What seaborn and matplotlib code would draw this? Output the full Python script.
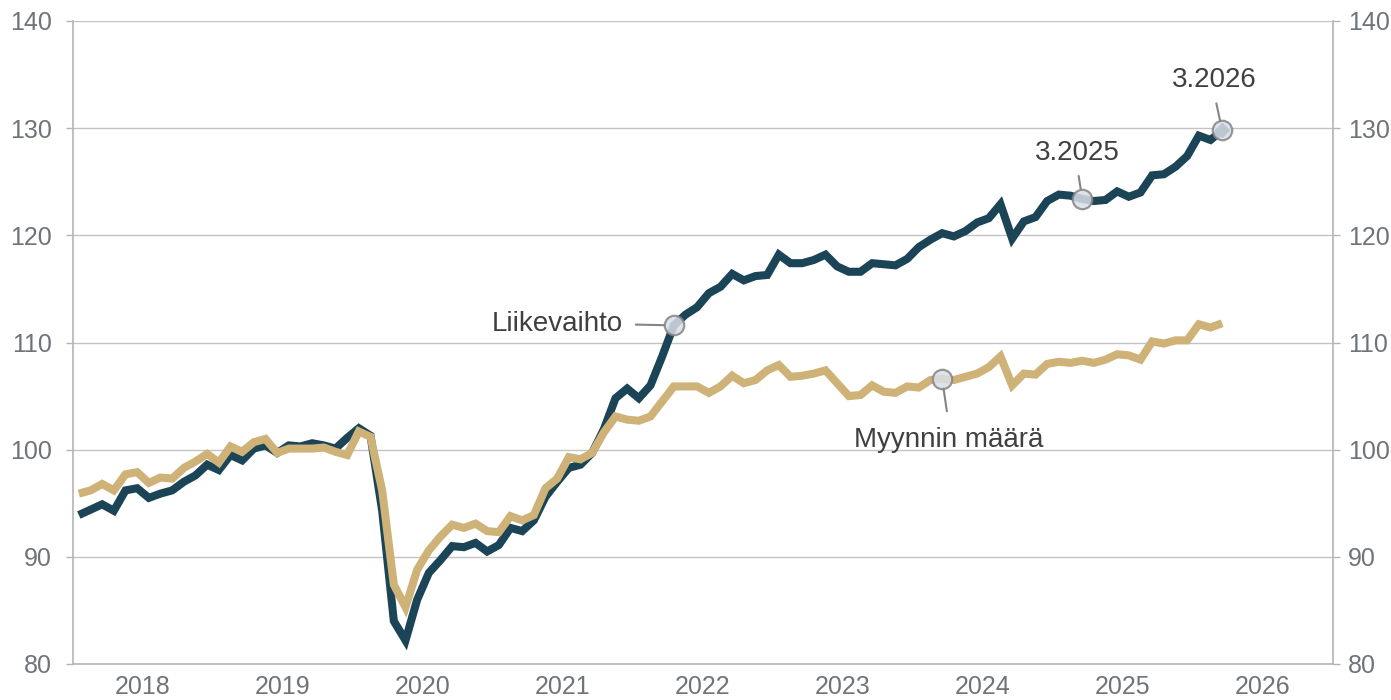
import numpy as np
import pandas as pd
import matplotlib
matplotlib.use("Agg")
import matplotlib.pyplot as plt
import seaborn as sns
from matplotlib import font_manager as fm

# ---------------- data ----------------
start_month = "2018-01"
n_months = 99  # 1.2018 ... 3.2026

liikevaihto = [
    93.9, 94.4, 94.9, 94.3, 96.2, 96.4, 95.5, 95.9, 96.2, 97.0, 97.6, 98.6,
    98.1, 99.5, 99.0, 100.1, 100.4, 99.7, 100.4, 100.3, 100.6, 100.4, 100.1, 101.1,
    102.0, 101.3, 94.3, 84.0, 82.2, 86.0, 88.5, 89.7, 91.0, 90.9, 91.3, 90.5,
    91.1, 92.7, 92.4, 93.4, 95.6, 97.0, 98.3, 98.6, 99.7, 101.9, 104.8, 105.7,
    104.8, 106.0, 108.7, 111.6, 112.6, 113.3, 114.6, 115.2, 116.4, 115.8, 116.2, 116.3,
    118.2, 117.4, 117.4, 117.7, 118.2, 117.1, 116.6, 116.6, 117.4, 117.3, 117.2, 117.8,
    118.9, 119.6, 120.2, 119.9, 120.4, 121.2, 121.6, 122.9, 119.7, 121.3, 121.7, 123.2,
    123.8, 123.7, 123.4, 123.2, 123.3, 124.1, 123.6, 124.0, 125.6, 125.7, 126.4, 127.4,
    129.3, 128.9, 129.8,
]
myynnin_maara = [
    95.9, 96.2, 96.8, 96.2, 97.7, 97.9, 96.9, 97.4, 97.3, 98.3, 98.9, 99.6,
    98.8, 100.3, 99.8, 100.7, 101.0, 99.7, 100.1, 100.1, 100.1, 100.2, 99.8, 99.5,
    101.7, 101.2, 96.2, 87.4, 85.3, 88.8, 90.6, 91.9, 93.0, 92.7, 93.1, 92.4,
    92.3, 93.8, 93.4, 93.9, 96.4, 97.3, 99.3, 99.1, 99.7, 101.6, 103.1, 102.8,
    102.7, 103.1, 104.5, 105.9, 105.9, 105.9, 105.3, 105.9, 106.9, 106.2, 106.5, 107.4,
    107.9, 106.8, 106.9, 107.1, 107.4, 106.2, 105.0, 105.1, 106.0, 105.4, 105.3, 105.9,
    105.8, 106.5, 106.6, 106.5, 106.8, 107.1, 107.7, 108.7, 106.0, 107.1, 107.0, 108.0,
    108.2, 108.1, 108.3, 108.1, 108.4, 108.9, 108.8, 108.4, 110.1, 109.9, 110.2, 110.2,
    111.7, 111.4, 111.8,
]
series_names = ["Liikevaihto", "Myynnin määrä"]
year_labels = ["2018", "2019", "2020", "2021", "2022", "2023", "2024", "2025", "2026"]
y_ticks = [80, 90, 100, 110, 120, 130, 140]
# annotations: (series, month label, text)
annotations = [
    ("Liikevaihto", "4.2022", "Liikevaihto"),
    ("Myynnin määrä", "3.2024", "Myynnin määrä"),
    ("Liikevaihto", "3.2025", "3.2025"),
    ("Liikevaihto", "3.2026", "3.2026"),
]

# ---------------- frame ----------------
dates = pd.date_range(start_month, periods=n_months, freq="MS")
month_labels = [f"{d.month}.{d.year}" for d in dates]
idx = np.arange(n_months)
df = pd.DataFrame({
    "idx": np.concatenate([idx, idx]),
    "month": month_labels * 2,
    "value": np.array(liikevaihto + myynnin_maara, dtype=float),
    "series": [series_names[0]] * n_months + [series_names[1]] * n_months,
})

# ---------------- style ----------------
sns.set_theme(style="white")
avail = {f.name for f in fm.fontManager.ttflist}
tick_font = [f for f in ["Liberation Sans Narrow", "Liberation Sans", "DejaVu Sans"] if f in avail] or ["DejaVu Sans"]
text_font = [f for f in ["Liberation Sans", "DejaVu Sans"] if f in avail] or ["DejaVu Sans"]
plt.rcParams["font.family"] = text_font

DARK = "#1b4557"
TAN = "#cfb278"
GRID = "#c3c3c3"
TICKC = "#6f7479"
AXC = "#b4b4b4"
TICK_FS = 18

fig = plt.figure(figsize=(13.91, 7.0), dpi=100)
ax = fig.add_axes([73 / 1391, 36 / 700, (1333 - 73) / 1391, (664 - 21) / 700])

palette = {series_names[0]: DARK, series_names[1]: TAN}
sns.lineplot(data=df, x="idx", y="value", hue="series", palette=palette,
             linewidth=5.8, ax=ax, legend=False, zorder=3)
for ln in ax.get_lines():
    ln.set_solid_joinstyle("miter")
    ln.set_solid_capstyle("butt")

ax.set_xlim(-0.5, 107.5)
ax.set_ylim(80, 140)
ax.set_xlabel("")
ax.set_ylabel("")

# left y axis
ax.set_yticks(y_ticks)
ax.yaxis.grid(True, color=GRID, linewidth=1.0, zorder=0)
ax.xaxis.grid(False)
ax.tick_params(axis="y", which="major", left=True, right=False, labelleft=True,
               length=5, width=1, color=AXC, labelcolor=TICKC,
               labelsize=TICK_FS, pad=10, direction="out")
for lab in ax.get_yticklabels():
    lab.set_family(tick_font)

# right y axis (same scale)
ax2 = ax.twinx()
ax2.set_ylim(ax.get_ylim())
ax2.set_yticks(y_ticks)
ax2.tick_params(axis="y", which="major", right=True, labelright=True, length=5,
                width=1, color=AXC, labelcolor=TICKC, labelsize=TICK_FS, pad=6,
                direction="out")
for lab in ax2.get_yticklabels():
    lab.set_family(tick_font)
for side in ["left", "top", "bottom"]:
    ax2.spines[side].set_visible(False)
ax2.spines["right"].set_color(AXC)
ax2.spines["right"].set_linewidth(1.2)
ax2.grid(False)

# x: year boundary ticks (major, no labels) and centered labels (minor)
ax.set_xticks([-0.5 + 12 * k for k in range(len(year_labels) + 1)])
ax.set_xticklabels([])
ax.set_xticks([5.5 + 12 * k for k in range(len(year_labels))], minor=True)
ax.set_xticklabels(year_labels, minor=True, fontsize=TICK_FS, color=TICKC, family=tick_font)
ax.tick_params(axis="x", which="major", direction="inout", length=10, width=1.2, color="#8a8a8a")
ax.tick_params(axis="x", which="minor", length=0, pad=8)

for side in ["left", "bottom"]:
    ax.spines[side].set_visible(True)
    ax.spines[side].set_color(AXC)
    ax.spines[side].set_linewidth(1.2)
ax.spines["top"].set_visible(False)
ax.spines["right"].set_visible(False)

# end-point diamond
ax.plot([idx[-1]], [liikevaihto[-1]], marker="D", markersize=7, color=DARK, zorder=5)

# annotations
values = {series_names[0]: liikevaihto, series_names[1]: myynnin_maara}
ann_style = {
    "Liikevaihto": dict(off=(-51, -6), ha="right", relpos=(1, 0.5), shrinkA=7),
    "Myynnin määrä": dict(off=(7, -68), ha="center", relpos=(0.5, 1), shrinkA=9),
    "3.2025": dict(off=(-5, 39), ha="center", relpos=(0.5, 0), shrinkA=5),
    "3.2026": dict(off=(-8, 43), ha="center", relpos=(0.5, 0), shrinkA=5),
}
for ser, mlab, txt in annotations:
    i = month_labels.index(mlab)
    v = values[ser][i]
    st = ann_style[txt]
    ax.plot([i], [v], marker="o", markersize=14, markerfacecolor="#d9dee8",
            markeredgecolor="#858585", markeredgewidth=1.6, alpha=0.85, zorder=6)
    ax.annotate(txt, xy=(i, v), xytext=st["off"], textcoords="offset pixels",
                ha=st["ha"], va="baseline", fontsize=20, color="#404040",
                family=text_font,
                arrowprops=dict(arrowstyle="-", color="#858585", lw=1.5,
                                shrinkA=st["shrinkA"], shrinkB=7,
                                relpos=st["relpos"]),
                zorder=7)

fig.savefig("out.png", dpi=100, facecolor="white")
